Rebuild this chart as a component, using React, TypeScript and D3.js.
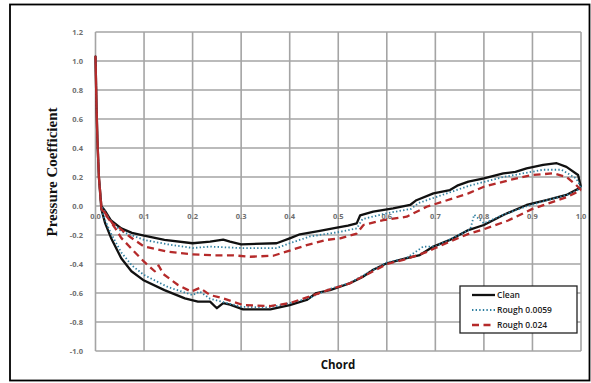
import React from "react";
import * as d3 from "d3";

// Chordwise pressure coefficient, [x/c, Cp]; each surface runs from leading edge to trailing edge.
const cleanUpper: [number, number][] = [
  [0, 1.03], [0.002, 0.7], [0.004, 0.45], [0.007, 0.2], [0.012, 0.0], [0.019, -0.03], [0.032, -0.1],
  [0.053, -0.154], [0.075, -0.185], [0.1, -0.205], [0.142, -0.234], [0.2, -0.257], [0.236, -0.246],
  [0.263, -0.232], [0.277, -0.246], [0.3, -0.264], [0.373, -0.257], [0.4, -0.223], [0.421, -0.195],
  [0.462, -0.172], [0.5, -0.148], [0.52, -0.135], [0.538, -0.12], [0.545, -0.065], [0.572, -0.039],
  [0.613, -0.016], [0.648, 0.007], [0.661, 0.04], [0.696, 0.087], [0.73, 0.11], [0.745, 0.14],
  [0.768, 0.168], [0.8, 0.19], [0.84, 0.225], [0.865, 0.235], [0.888, 0.26], [0.922, 0.283],
  [0.95, 0.295], [0.97, 0.27], [0.994, 0.214], [1.0, 0.13],
];
const cleanLower: [number, number][] = [
  [0, 1.03], [0.002, 0.7], [0.004, 0.45], [0.007, 0.2], [0.012, -0.02], [0.02, -0.12], [0.032, -0.22],
  [0.053, -0.36], [0.074, -0.45], [0.098, -0.51], [0.142, -0.58], [0.184, -0.637], [0.211, -0.66],
  [0.236, -0.66], [0.25, -0.705], [0.263, -0.67], [0.277, -0.68], [0.304, -0.713], [0.36, -0.713],
  [0.4, -0.683], [0.435, -0.648], [0.455, -0.6], [0.483, -0.58], [0.524, -0.533], [0.55, -0.49],
  [0.572, -0.44], [0.6, -0.395], [0.641, -0.36], [0.668, -0.338], [0.696, -0.28], [0.73, -0.234],
  [0.768, -0.166], [0.8, -0.131], [0.84, -0.062], [0.888, 0.007], [0.929, 0.04], [0.97, 0.076],
  [1.0, 0.13],
];
const rough0059Upper: [number, number][] = [
  [0, 1.03], [0.002, 0.7], [0.004, 0.45], [0.007, 0.2], [0.012, 0.0], [0.02, -0.04], [0.032, -0.11],
  [0.053, -0.175], [0.1, -0.234], [0.15, -0.265], [0.2, -0.29], [0.236, -0.28], [0.3, -0.29],
  [0.373, -0.29], [0.4, -0.257], [0.442, -0.21], [0.5, -0.18], [0.538, -0.155], [0.55, -0.09],
  [0.6, -0.05], [0.65, -0.02], [0.665, 0.02], [0.7, 0.06], [0.77, 0.14], [0.84, 0.2], [0.922, 0.25],
  [0.96, 0.25], [0.99, 0.19], [1.0, 0.13],
];
const rough0059Lower: [number, number][] = [
  [0, 1.03], [0.002, 0.7], [0.004, 0.45], [0.007, 0.2], [0.012, -0.02], [0.02, -0.1], [0.032, -0.19],
  [0.053, -0.32], [0.075, -0.41], [0.1, -0.476], [0.15, -0.56], [0.2, -0.614], [0.215, -0.59],
  [0.236, -0.64], [0.26, -0.66], [0.3, -0.695], [0.36, -0.7], [0.4, -0.67], [0.44, -0.635],
  [0.48, -0.575], [0.524, -0.53], [0.572, -0.44], [0.6, -0.39], [0.64, -0.36], [0.675, -0.28],
  [0.7, -0.28], [0.73, -0.23], [0.772, -0.16], [0.78, -0.06], [0.8, -0.12], [0.84, -0.06],
  [0.89, 0.0], [0.93, 0.04], [0.97, 0.075], [1.0, 0.12],
];
const rough024Upper: [number, number][] = [
  [0, 1.03], [0.002, 0.7], [0.004, 0.45], [0.007, 0.2], [0.012, 0.0], [0.02, -0.05], [0.035, -0.12],
  [0.047, -0.145], [0.07, -0.21], [0.1, -0.28], [0.149, -0.315], [0.197, -0.333], [0.247, -0.34],
  [0.284, -0.34], [0.318, -0.35], [0.366, -0.343], [0.393, -0.315], [0.435, -0.27], [0.476, -0.234],
  [0.504, -0.223], [0.538, -0.19], [0.552, -0.131], [0.593, -0.097], [0.641, -0.074], [0.682, -0.005],
  [0.737, 0.053], [0.768, 0.087], [0.8, 0.133], [0.854, 0.18], [0.9, 0.214], [0.943, 0.225],
  [0.97, 0.2], [0.99, 0.145], [1.0, 0.11],
];
const rough024Lower: [number, number][] = [
  [0, 1.03], [0.002, 0.7], [0.004, 0.45], [0.007, 0.2], [0.012, -0.02], [0.025, -0.08], [0.04, -0.15],
  [0.053, -0.22], [0.08, -0.315], [0.1, -0.384], [0.122, -0.45], [0.13, -0.41], [0.14, -0.47],
  [0.17, -0.545], [0.197, -0.59], [0.215, -0.565], [0.236, -0.614], [0.263, -0.637], [0.304, -0.683],
  [0.36, -0.69], [0.4, -0.67], [0.44, -0.625], [0.483, -0.575], [0.524, -0.533], [0.572, -0.45],
  [0.6, -0.4], [0.641, -0.365], [0.68, -0.32], [0.7, -0.29], [0.73, -0.245], [0.77, -0.19],
  [0.8, -0.16], [0.85, -0.1], [0.9, -0.02], [0.97, 0.06], [1.0, 0.11],
];

const xTicks = [0, 0.1, 0.2, 0.3, 0.4, 0.5, 0.6, 0.7, 0.8, 0.9, 1.0];
const yTicks = [-1.0, -0.8, -0.6, -0.4, -0.2, 0.0, 0.2, 0.4, 0.6, 0.8, 1.0, 1.2];
const seriesNames = ["Clean", "Rough 0.0059", "Rough 0.024"];

const W = 591;
const H = 383;

export default function App() {
  const x = d3.scaleLinear().domain([0, 1]).range([95.5, 581]);
  const y = d3.scaleLinear().domain([-1, 1.2]).range([351, 32]);
  const line = d3
    .line<[number, number]>()
    .x((d) => x(d[0]))
    .y((d) => y(d[1]));

  const loop = (upper: [number, number][], lower: [number, number][]) =>
    line([...upper.slice().reverse(), ...lower.slice(1)]) || "";

  const series = [
    { name: seriesNames[0], path: loop(cleanUpper, cleanLower), stroke: "#111", width: 2.3, dash: undefined },
    { name: seriesNames[1], path: loop(rough0059Upper, rough0059Lower), stroke: "#2f7fa0", width: 1.8, dash: "1.4 2.2" },
    { name: seriesNames[2], path: loop(rough024Upper, rough024Lower), stroke: "#b52a2a", width: 2.3, dash: "7 4.5" },
  ];

  const tickFont = "'Open Sans', 'DejaVu Sans', sans-serif";
  const legendX = 460;
  const legendY = 286;

  return (
    <svg
      width={W}
      height={H}
      style={{ position: "absolute", left: 0, top: 0, background: "#fff" }}
    >
      <rect x={0} y={0} width={W} height={H} fill="#fff" />
      <rect x={10} y={4.5} width={579.5} height={376} fill="none" stroke="#000" strokeWidth={1.8} />

      {/* grid */}
      {xTicks.map((t) => (
        <line key={"gx" + t} x1={x(t)} x2={x(t)} y1={y(1.2)} y2={y(-1)} stroke="#a4a4a4" strokeWidth={1.6} />
      ))}
      {yTicks.map((t) => (
        <line key={"gy" + t} x1={x(0)} x2={x(1)} y1={y(t)} y2={y(t)} stroke="#a4a4a4" strokeWidth={1.6} />
      ))}

      {/* tick labels */}
      {yTicks.map((t) => (
        <text
          key={"ly" + t}
          x={83}
          y={y(t)}
          dy="0.35em"
          textAnchor="end"
          fontFamily={tickFont}
          fontSize={7.5}
          fontWeight={700}
          fill="#6e6e6e"
        >
          {d3.format(".1f")(t).replace("−", "-")}
        </text>
      ))}
      {xTicks.map((t) => (
        <text
          key={"lx" + t}
          x={x(t)}
          y={y(0) + 13}
          textAnchor="middle"
          fontFamily={tickFont}
          fontSize={7.5}
          fontWeight={700}
          fill="#6e6e6e"
        >
          {d3.format(".1f")(t)}
        </text>
      ))}

      {/* series */}
      {series.map((s) => (
        <path
          key={s.name}
          d={s.path}
          fill="none"
          stroke={s.stroke}
          strokeWidth={s.width}
          strokeDasharray={s.dash}
          strokeLinejoin="round"
        />
      ))}

      {/* axis titles */}
      <text
        transform={`translate(57,172) rotate(-90)`}
        textAnchor="middle"
        fontFamily="'Liberation Serif', 'DejaVu Serif', serif"
        fontWeight={700}
        fontSize={15}
        fill="#111"
      >
        Pressure Coefficient
      </text>
      <text
        x={338}
        y={369}
        textAnchor="middle"
        fontFamily={tickFont}
        fontWeight={700}
        fontSize={11.5}
        fill="#111"
      >
        Chord
      </text>

      {/* legend */}
      <rect x={legendX} y={legendY} width={117} height={47} fill="#fff" stroke="#222" strokeWidth={1.3} />
      {series.map((s, i) => {
        const ly = legendY + 9 + i * 15;
        return (
          <g key={"lg" + s.name}>
            <line
              x1={472}
              x2={495}
              y1={ly}
              y2={ly}
              stroke={s.stroke}
              strokeWidth={s.width}
              strokeDasharray={s.dash}
            />
            <text
              x={497}
              y={ly}
              dy="0.35em"
              fontFamily={tickFont}
              fontSize={8.5}
              fontWeight={600}
              fill="#222"
            >
              {s.name}
            </text>
          </g>
        );
      })}
    </svg>
  );
}
